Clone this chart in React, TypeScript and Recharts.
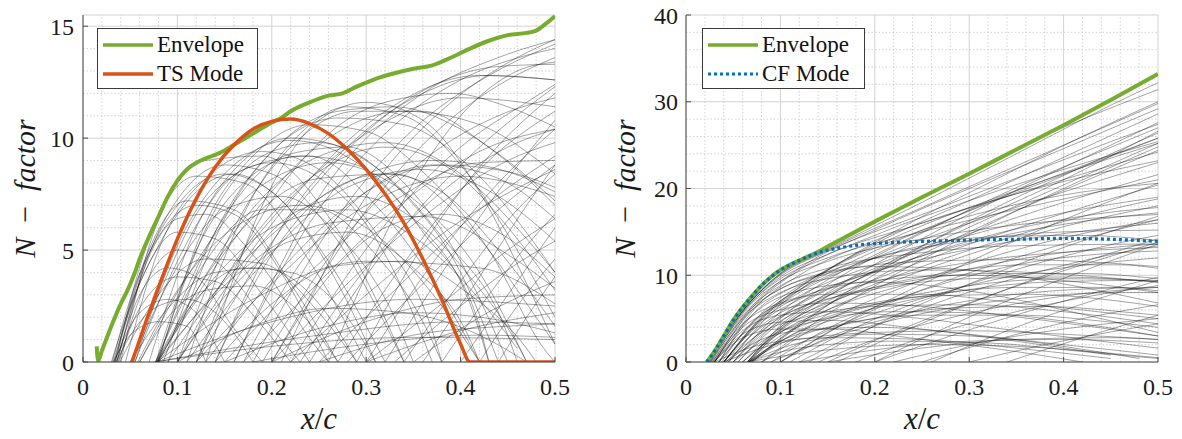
import React from 'react';
import { LineChart, Line, XAxis, YAxis, CartesianGrid, ReferenceLine, Legend } from 'recharts';

type Pt = [number, number];

const FONT = "'Liberation Serif', 'Times New Roman', serif";

// ---- tick values ----
const xTicks = [0, 0.1, 0.2, 0.3, 0.4, 0.5];
const xMinorTicks = [0.02, 0.04, 0.06, 0.08, 0.12, 0.14, 0.16, 0.18, 0.22, 0.24, 0.26, 0.28, 0.32, 0.34, 0.36, 0.38, 0.42, 0.44, 0.46, 0.48];
const tsYTicks = [0, 5, 10, 15];
const tsYMinorTicks = [1, 2, 3, 4, 6, 7, 8, 9, 11, 12, 13, 14];
const cfYTicks = [0, 10, 20, 30, 40];
const cfYMinorTicks = [2, 4, 6, 8, 12, 14, 16, 18, 22, 24, 26, 28, 32, 34, 36, 38];

// ---- left panel (TS) ----
const tsEnvelope: Pt[] = [
  [0.0145, 0.7], [0.016, 0.05], [0.02, 0.5], [0.03, 1.6], [0.04, 2.6], [0.046, 3.1], [0.055, 4.0], [0.06, 4.6],
  [0.07, 5.6], [0.08, 6.5], [0.09, 7.4], [0.1, 8.1], [0.11, 8.6], [0.12, 8.9], [0.13, 9.1], [0.14, 9.25],
  [0.15, 9.45], [0.16, 9.7], [0.18, 10.2], [0.2, 10.7], [0.21, 10.9], [0.22, 11.2], [0.24, 11.6], [0.26, 11.9],
  [0.275, 12.0], [0.29, 12.3], [0.31, 12.65], [0.33, 12.9], [0.35, 13.1], [0.37, 13.25], [0.39, 13.6],
  [0.41, 14.0], [0.43, 14.35], [0.45, 14.6], [0.47, 14.7], [0.48, 14.8], [0.49, 15.1], [0.5, 15.45],
];
const tsMode: Pt[] = [
  [0.052, 0], [0.07, 2.2], [0.085, 3.9], [0.1, 5.5], [0.12, 7.3], [0.14, 8.7], [0.16, 9.7], [0.18, 10.4],
  [0.2, 10.75], [0.22, 10.85], [0.24, 10.65], [0.26, 10.2], [0.28, 9.5], [0.3, 8.6], [0.32, 7.5], [0.34, 6.2],
  [0.36, 4.6], [0.38, 2.8], [0.4, 0.8], [0.41, 0], [0.5, 0],
];
const tsCurves: Pt[][] = [
  [[0.032, 0], [0.06, 3.5], [0.1, 5.8], [0.14, 5.5], [0.19, 3], [0.24, 0]],
  [[0.033, 0], [0.065, 4.5], [0.11, 7.2], [0.16, 6.8], [0.22, 3.5], [0.27, 0]],
  [[0.034, 0], [0.07, 5.5], [0.12, 8.3], [0.17, 8.0], [0.24, 4.5], [0.3, 0]],
  [[0.035, 0], [0.06, 3], [0.09, 4.2], [0.12, 3.8], [0.16, 1.5], [0.19, 0]],
  [[0.036, 0], [0.065, 4.2], [0.1, 6.4], [0.13, 6.6], [0.18, 4.8], [0.25, 0.5], [0.26, 0]],
  [[0.038, 0], [0.07, 3.8], [0.1, 5], [0.14, 4.5], [0.2, 1.5], [0.23, 0]],
  [[0.03, 0], [0.05, 2.5], [0.08, 5.2], [0.12, 7.6], [0.16, 8.4], [0.2, 7.6], [0.26, 4.5], [0.32, 0]],
  [[0.04, 0], [0.075, 5.8], [0.13, 9], [0.19, 9.2], [0.26, 6.5], [0.33, 1], [0.34, 0]],
  [[0.035, 0], [0.055, 1.5], [0.08, 2.5], [0.11, 2.8], [0.15, 1.8], [0.18, 0]],
  [[0.033, 0], [0.06, 2.2], [0.09, 2.8], [0.12, 2.2], [0.14, 0.8], [0.15, 0]],
  [[0.031, 0], [0.05, 2.8], [0.08, 5.6], [0.12, 7.0], [0.16, 6.6], [0.21, 4], [0.26, 0]],
  [[0.034, 0], [0.06, 3.8], [0.1, 7], [0.15, 8.4], [0.2, 7.6], [0.27, 3.5], [0.31, 0]],
  [[0.036, 0], [0.07, 4.8], [0.11, 7.8], [0.15, 8.8], [0.2, 8.4], [0.27, 5.4], [0.34, 0]],
  [[0.037, 0], [0.06, 2.4], [0.1, 3.8], [0.14, 3.6], [0.19, 1.6], [0.22, 0]],
  [[0.032, 0], [0.05, 1.2], [0.08, 1.8], [0.11, 1.6], [0.13, 0]],
  [[0.039, 0], [0.08, 3], [0.13, 4.6], [0.19, 4.4], [0.25, 2.2], [0.29, 0]],
  [[0.045, 0], [0.08, 5], [0.13, 8.2], [0.19, 9.4], [0.25, 8.6], [0.31, 5.8], [0.37, 1.4], [0.38, 0]],
  [[0.05, 0], [0.08, 3], [0.13, 7.2], [0.2, 8.9], [0.27, 7.6], [0.33, 4], [0.37, 0]],
  [[0.052, 0], [0.09, 3.5], [0.15, 6.8], [0.21, 7.4], [0.27, 5.7], [0.33, 2], [0.35, 0]],
  [[0.055, 0], [0.1, 4.5], [0.17, 8.6], [0.24, 9.2], [0.31, 7], [0.38, 3], [0.42, 0]],
  [[0.055, 0], [0.1, 5.2], [0.16, 8.8], [0.22, 9.9], [0.29, 8.9], [0.36, 5.8], [0.42, 1.6], [0.43, 0]],
  [[0.05, 0], [0.09, 2.4], [0.14, 4], [0.19, 4.2], [0.25, 2.6], [0.29, 0]],
  [[0.058, 0], [0.1, 3.2], [0.16, 6], [0.23, 7], [0.3, 6], [0.38, 2.5], [0.42, 0]],
  [[0.06, 0], [0.11, 3.8], [0.18, 7.6], [0.26, 8.9], [0.34, 7.6], [0.42, 4], [0.47, 0]],
  [[0.06, 0], [0.09, 2], [0.13, 3.2], [0.18, 3.4], [0.23, 2.2], [0.27, 0]],
  [[0.077, 0], [0.15, 6.5], [0.22, 9.3], [0.28, 9.6], [0.34, 8], [0.4, 4.5], [0.45, 0]],
  [[0.077, 0], [0.15, 5.0], [0.25, 8.2], [0.33, 8.4], [0.41, 6], [0.48, 2], [0.5, 0.8]],
  [[0.078, 0], [0.16, 3.8], [0.26, 6.2], [0.36, 6.5], [0.45, 4.8], [0.5, 3.3]],
  [[0.078, 0], [0.18, 2.8], [0.3, 4.5], [0.42, 4.2], [0.5, 2.6]],
  [[0.078, 0], [0.2, 1.8], [0.35, 2.8], [0.5, 2.5]],
  [[0.079, 0], [0.14, 6.8], [0.2, 9.4], [0.25, 9.8], [0.31, 8.7], [0.38, 5.6], [0.45, 1.2], [0.46, 0]],
  [[0.08, 0], [0.16, 5.8], [0.24, 9], [0.32, 9.8], [0.4, 8.4], [0.47, 5.5], [0.5, 4]],
  [[0.077, 0], [0.13, 4.5], [0.19, 6.8], [0.25, 6.8], [0.31, 4.8], [0.36, 1.8], [0.38, 0]],
  [[0.078, 0], [0.12, 2.8], [0.17, 4.2], [0.22, 4], [0.28, 2], [0.31, 0]],
  [[0.076, 0], [0.2, 0.7], [0.35, 1.1], [0.5, 1.0]],
  [[0.08, 0], [0.17, 4.5], [0.27, 7.8], [0.37, 9], [0.45, 8.5], [0.5, 7.6]],
  [[0.077, 0], [0.12, 5], [0.17, 8], [0.23, 9.2], [0.29, 8.8], [0.35, 6.4], [0.41, 2.6], [0.43, 0]],
  [[0.078, 0], [0.14, 3.8], [0.21, 6.2], [0.28, 6.8], [0.35, 5.6], [0.42, 2.8], [0.46, 0.6]],
  [[0.077, 0], [0.25, 1.2], [0.4, 1.8], [0.5, 1.7]],
  [[0.079, 0], [0.18, 6.6], [0.26, 10], [0.34, 11.2], [0.42, 10.6], [0.5, 8.4]],
  [[0.1, 0], [0.17, 5], [0.25, 8.5], [0.32, 9.6], [0.39, 8.6], [0.46, 5.5], [0.5, 3.2]],
  [[0.11, 0], [0.19, 4.4], [0.28, 7.8], [0.36, 8.6], [0.44, 7.4], [0.5, 5.4]],
  [[0.12, 0], [0.2, 3.5], [0.3, 7], [0.4, 8.3], [0.5, 7.4]],
  [[0.13, 0], [0.22, 4.6], [0.3, 7.6], [0.38, 8.8], [0.45, 8.5], [0.5, 7.8]],
  [[0.15, 0], [0.24, 4], [0.33, 7.2], [0.42, 8.9], [0.5, 9]],
  [[0.1, 0], [0.16, 3.4], [0.22, 5.4], [0.28, 5.8], [0.35, 4.2], [0.41, 1], [0.42, 0]],
  [[0.14, 0], [0.2, 2.6], [0.27, 4.3], [0.34, 4.5], [0.41, 3], [0.47, 0.6], [0.48, 0]],
  [[0.17, 0], [0.26, 4], [0.35, 7.5], [0.43, 9.6], [0.5, 10.4]],
  [[0.2, 0], [0.28, 3.5], [0.37, 6.8], [0.45, 9], [0.5, 9.8]],
  [[0.22, 0], [0.3, 3], [0.4, 6.3], [0.5, 8.6]],
  [[0.25, 0], [0.33, 3.2], [0.42, 6.8], [0.5, 9.2]],
  [[0.28, 0], [0.36, 3.5], [0.44, 6.8], [0.5, 8.8]],
  [[0.3, 0], [0.38, 2.6], [0.45, 5], [0.5, 6.4]],
  [[0.33, 0], [0.4, 2.5], [0.46, 4.4], [0.5, 5.4]],
  [[0.09, 0], [0.15, 6.4], [0.21, 9.8], [0.27, 11.2], [0.33, 11.4], [0.4, 10.4], [0.47, 8.2], [0.5, 7]],
  [[0.12, 0], [0.18, 5.8], [0.25, 9.8], [0.32, 11.6], [0.39, 12], [0.45, 11.4], [0.5, 10.5]],
  [[0.14, 0], [0.21, 6], [0.29, 10], [0.36, 12], [0.43, 12.8], [0.5, 12.6]],
  [[0.16, 0], [0.24, 6.2], [0.32, 10.2], [0.4, 12.6], [0.47, 13.7], [0.5, 14]],
  [[0.18, 0], [0.27, 6.5], [0.35, 10.4], [0.43, 12.8], [0.5, 14.2]],
  [[0.2, 0], [0.29, 6.2], [0.38, 10.5], [0.45, 12.6], [0.5, 13.6]],
  [[0.19, 0], [0.27, 5.2], [0.36, 9], [0.44, 11], [0.5, 11.8]],
  [[0.22, 0], [0.31, 5.6], [0.4, 9.6], [0.47, 11.6], [0.5, 12.4]],
  [[0.24, 0], [0.32, 5], [0.41, 9.2], [0.5, 12.3]],
  [[0.27, 0], [0.35, 5], [0.43, 9], [0.5, 11.2]],
  [[0.3, 0], [0.37, 4.4], [0.44, 8], [0.5, 10.4]],
  [[0.34, 0], [0.4, 3.6], [0.46, 6.8], [0.5, 8.4]],
  [[0.38, 0], [0.43, 3], [0.47, 5.2], [0.5, 6.6]],
  [[0.42, 0], [0.46, 2.5], [0.5, 4.6]],
  [[0.08, 0], [0.13, 6.2], [0.18, 9.2], [0.24, 10.6], [0.3, 10.3], [0.36, 8.5], [0.43, 5], [0.49, 0.5], [0.5, 0]],
  [[0.085, 0], [0.14, 5.8], [0.2, 9.4], [0.27, 10.9], [0.34, 10.6], [0.41, 8.7], [0.48, 5.2], [0.5, 4]],
  [[0.07, 0], [0.12, 6], [0.17, 9], [0.22, 10], [0.28, 9.5], [0.34, 7.5], [0.4, 4], [0.44, 0]],
  [[0.1, 0], [0.16, 6], [0.22, 9.6], [0.29, 11.2], [0.36, 11.2], [0.43, 9.6], [0.5, 7.2]],
  [[0.26, 0], [0.33, 6.5], [0.4, 11], [0.46, 13], [0.5, 13.4]],
  [[0.15, 0], [0.25, 1.5], [0.35, 2.2], [0.45, 1.8], [0.5, 1.3]],
  [[0.2, 0], [0.3, 1.8], [0.4, 2.8], [0.5, 3]],
  [[0.3, 0], [0.4, 1.4], [0.5, 2.2]],
  [[0.1, 0], [0.18, 1.6], [0.26, 2.4], [0.34, 2.2], [0.42, 1.2], [0.47, 0]],
  [[0.35, 0], [0.42, 2], [0.5, 3.6]],
  [[0.13, 0], [0.19, 7], [0.25, 10.8], [0.3, 11.6], [0.36, 10.8], [0.42, 7.6], [0.47, 3.5], [0.5, 0.8]],
  [[0.11, 0], [0.17, 6.6], [0.23, 10.2], [0.28, 11.4], [0.34, 11], [0.4, 8.8], [0.46, 5], [0.5, 2]],
  [[0.09, 0], [0.2, 6.4], [0.3, 10.2], [0.4, 11.8], [0.5, 11.4]],
  [[0.1, 0], [0.22, 7.2], [0.32, 11.2], [0.42, 12.8], [0.5, 12.6]],
  [[0.12, 0], [0.24, 7.6], [0.34, 11.6], [0.44, 13.2], [0.5, 13.3]],
  [[0.16, 0], [0.26, 8], [0.36, 12], [0.44, 13.6], [0.5, 14.4]],
  [[0.21, 0], [0.3, 7.4], [0.39, 11.6], [0.46, 13.6], [0.5, 14.4]],
  [[0.23, 0], [0.3, 4.2], [0.38, 7.6], [0.45, 9.6], [0.5, 10.4]],
  [[0.29, 0], [0.36, 5.2], [0.43, 9.2], [0.5, 12]],
  [[0.32, 0], [0.39, 4.6], [0.45, 8.2], [0.5, 10.8]],
  [[0.36, 0], [0.42, 3.8], [0.47, 7], [0.5, 8.8]],
  [[0.4, 0], [0.45, 3], [0.5, 6]],
  [[0.44, 0], [0.47, 2], [0.5, 3.8]],
  [[0.18, 0], [0.3, 0.8], [0.42, 1.2], [0.5, 1.1]],
  [[0.25, 0], [0.35, 1.2], [0.45, 1.6], [0.5, 1.7]],
  [[0.14, 0], [0.2, 4.8], [0.26, 7.6], [0.32, 8.4], [0.38, 7.6], [0.44, 5], [0.5, 1.6]],
  [[0.17, 0], [0.23, 4.4], [0.3, 7.6], [0.37, 8.8], [0.44, 8.2], [0.5, 6.4]],
  [[0.12, 0], [0.17, 4.2], [0.23, 6.8], [0.29, 7.4], [0.35, 6.4], [0.41, 3.8], [0.46, 0.8], [0.47, 0]],
  [[0.2, 0], [0.26, 3.8], [0.32, 6], [0.38, 6.6], [0.44, 5.8], [0.5, 3.8]],
];

// ---- right panel (CF) ----
const cfEnvelope: Pt[] = [
  [0.022, 0], [0.03, 1.2], [0.04, 3.0], [0.05, 4.8], [0.06, 6.3], [0.07, 7.6], [0.08, 8.8], [0.09, 9.8],
  [0.1, 10.6], [0.11, 11.2], [0.12, 11.7], [0.13, 12.2], [0.14, 12.7], [0.15, 13.3], [0.2, 16.2],
  [0.25, 19.0], [0.3, 21.7], [0.35, 24.5], [0.4, 27.3], [0.45, 30.2], [0.5, 33.2],
];
const cfMode: Pt[] = [
  [0.022, 0], [0.03, 1.2], [0.04, 3.0], [0.05, 4.8], [0.06, 6.3], [0.07, 7.6], [0.08, 8.8], [0.09, 9.8],
  [0.1, 10.6], [0.11, 11.2], [0.12, 11.7], [0.13, 12.2], [0.14, 12.6], [0.16, 13.1], [0.18, 13.45],
  [0.2, 13.65], [0.25, 13.9], [0.3, 14.05], [0.35, 14.15], [0.4, 14.25], [0.45, 14.15], [0.5, 13.9],
];
const cfCurves: Pt[][] = [
  [[0.024, 0], [0.06, 5.8], [0.1, 9.6], [0.15, 12], [0.25, 15], [0.35, 17.6], [0.5, 21]],
  [[0.025, 0], [0.06, 5.4], [0.1, 8.8], [0.15, 10.8], [0.25, 12.6], [0.35, 13.4], [0.5, 13.6]],
  [[0.026, 0], [0.06, 5], [0.1, 8], [0.15, 9.6], [0.25, 10.6], [0.35, 10.4], [0.5, 9.2]],
  [[0.028, 0], [0.06, 4.4], [0.1, 6.8], [0.15, 7.8], [0.25, 7.8], [0.35, 6.8], [0.5, 5]],
  [[0.03, 0], [0.06, 3.6], [0.1, 5.4], [0.15, 5.8], [0.25, 5], [0.35, 3.6], [0.5, 1.6]],
  [[0.03, 0], [0.06, 2.8], [0.1, 3.8], [0.15, 3.8], [0.25, 2.6], [0.35, 1.2], [0.42, 0]],
  [[0.024, 0], [0.06, 5.9], [0.1, 10], [0.15, 12.8], [0.25, 17], [0.35, 21.2], [0.45, 25.4], [0.5, 27.4]],
  [[0.025, 0], [0.06, 5.7], [0.1, 9.8], [0.15, 12.4], [0.25, 16], [0.35, 19.4], [0.5, 24.2]],
  [[0.024, 0], [0.06, 5.9], [0.1, 10.2], [0.15, 13], [0.25, 18.4], [0.35, 24], [0.45, 29.6], [0.5, 32.2]],
  [[0.024, 0], [0.06, 5.9], [0.1, 10.2], [0.15, 13.1], [0.25, 18.9], [0.35, 24.6], [0.5, 31.4]],
  [[0.023, 0], [0.06, 5.9], [0.1, 10.1], [0.15, 12.9], [0.25, 17.8], [0.35, 22.6], [0.45, 27.4], [0.5, 29.8]],
  [[0.026, 0], [0.06, 5.6], [0.1, 9.3], [0.15, 11.6], [0.25, 14.2], [0.35, 15.8], [0.5, 17]],
  [[0.027, 0], [0.06, 5.2], [0.1, 8.4], [0.15, 10.2], [0.25, 11.6], [0.35, 11.8], [0.5, 11]],
  [[0.029, 0], [0.06, 4], [0.1, 6], [0.15, 6.8], [0.25, 6.4], [0.35, 5.2], [0.5, 3]],
  [[0.03, 0], [0.06, 3.2], [0.1, 4.6], [0.15, 4.8], [0.25, 3.8], [0.35, 2.4], [0.45, 0.8]],
  [[0.03, 0], [0.07, 6], [0.12, 9.4], [0.2, 11], [0.3, 10.6], [0.4, 9], [0.5, 6.8]],
  [[0.03, 0], [0.07, 5.4], [0.12, 8.2], [0.2, 9.2], [0.3, 8.2], [0.4, 6], [0.5, 3.4]],
  [[0.03, 0], [0.07, 6.2], [0.12, 10.6], [0.2, 14.6], [0.3, 18.6], [0.4, 22.2], [0.5, 25.4]],
  [[0.028, 0], [0.07, 6.4], [0.12, 10.8], [0.2, 15.2], [0.3, 20], [0.4, 24.6], [0.5, 29.2]],
  [[0.03, 0], [0.08, 2], [0.15, 2.8], [0.25, 2.6], [0.35, 1.6], [0.45, 0.4]],
  [[0.035, 0], [0.08, 5.4], [0.14, 9.4], [0.22, 12.6], [0.32, 14.4], [0.42, 14.6], [0.5, 14]],
  [[0.035, 0], [0.08, 5.6], [0.14, 10], [0.22, 14], [0.32, 17.4], [0.42, 19.6], [0.5, 20.6]],
  [[0.035, 0], [0.07, 5.8], [0.12, 10], [0.2, 14], [0.3, 17.8], [0.4, 20.8], [0.5, 23.2]],
  [[0.035, 0], [0.07, 5.4], [0.12, 9], [0.2, 12], [0.3, 14], [0.4, 15], [0.5, 15.2]],
  [[0.038, 0], [0.07, 4.6], [0.12, 7.4], [0.2, 9.4], [0.3, 10], [0.4, 9.4], [0.5, 8]],
  [[0.04, 0], [0.08, 5], [0.12, 8], [0.2, 12], [0.3, 16], [0.4, 19.6], [0.5, 23]],
  [[0.04, 0], [0.08, 4.6], [0.12, 7.2], [0.2, 10.4], [0.3, 13], [0.4, 14.8], [0.5, 16]],
  [[0.04, 0], [0.08, 4], [0.12, 6.2], [0.2, 8.4], [0.3, 9.6], [0.4, 9.8], [0.5, 9.2]],
  [[0.042, 0], [0.08, 3.4], [0.12, 5], [0.2, 6.4], [0.3, 6.6], [0.4, 5.8], [0.5, 4.4]],
  [[0.042, 0], [0.08, 2.6], [0.12, 3.6], [0.2, 4], [0.3, 3.2], [0.4, 1.8], [0.48, 0.4]],
  [[0.04, 0], [0.08, 5.2], [0.12, 8.6], [0.2, 13.6], [0.3, 18.6], [0.4, 23.6], [0.5, 28.6]],
  [[0.04, 0], [0.08, 5.1], [0.12, 8.3], [0.2, 12.8], [0.3, 17.4], [0.4, 21.6], [0.5, 25.8]],
  [[0.04, 0], [0.08, 4.8], [0.12, 7.6], [0.2, 11.2], [0.3, 14.6], [0.4, 17.2], [0.5, 19]],
  [[0.04, 0], [0.09, 6], [0.15, 10.6], [0.23, 14.8], [0.33, 19], [0.43, 22.8], [0.5, 25.2]],
  [[0.04, 0], [0.1, 2.2], [0.2, 3.4], [0.3, 3.6], [0.4, 3.2], [0.5, 2.6]],
  [[0.045, 0], [0.08, 4.2], [0.12, 6.8], [0.2, 10.8], [0.3, 14.8], [0.4, 18.4], [0.5, 21.6]],
  [[0.045, 0], [0.09, 4.4], [0.14, 7.2], [0.22, 9.8], [0.32, 11.8], [0.42, 12.8], [0.5, 13.2]],
  [[0.045, 0], [0.09, 5.6], [0.14, 9.8], [0.22, 15], [0.32, 20.6], [0.42, 26], [0.5, 30]],
  [[0.05, 0], [0.09, 4.8], [0.14, 8.8], [0.22, 13.4], [0.32, 18.4], [0.42, 22.6], [0.5, 25.8]],
  [[0.05, 0], [0.09, 4.4], [0.14, 7.8], [0.22, 11.2], [0.32, 14.2], [0.42, 16.2], [0.5, 17.2]],
  [[0.05, 0], [0.09, 4], [0.14, 6.8], [0.22, 9], [0.32, 10.2], [0.42, 10.2], [0.5, 9.6]],
  [[0.05, 0], [0.09, 3], [0.14, 4.8], [0.22, 5.8], [0.32, 5.6], [0.42, 4.4], [0.5, 3]],
  [[0.055, 0], [0.1, 4.6], [0.16, 8.4], [0.26, 12.6], [0.36, 15.6], [0.46, 17.4], [0.5, 17.8]],
  [[0.055, 0], [0.1, 5], [0.16, 9.6], [0.26, 15.4], [0.36, 20.6], [0.46, 25.2], [0.5, 27]],
  [[0.06, 0], [0.1, 4], [0.16, 7.2], [0.26, 10], [0.36, 11.2], [0.46, 11.2], [0.5, 10.8]],
  [[0.06, 0], [0.12, 5.4], [0.2, 10.6], [0.3, 16], [0.4, 21], [0.5, 26.6]],
  [[0.06, 0], [0.1, 3.4], [0.16, 5.8], [0.26, 7.6], [0.36, 7.8], [0.46, 7], [0.5, 6.4]],
  [[0.065, 0], [0.1, 3.8], [0.15, 7], [0.25, 11.6], [0.35, 15.4], [0.45, 18.8], [0.5, 20.4]],
  [[0.065, 0], [0.1, 3.4], [0.15, 6], [0.25, 9.4], [0.35, 11.8], [0.45, 13.2], [0.5, 13.6]],
  [[0.065, 0], [0.1, 3], [0.15, 5.2], [0.25, 7.6], [0.35, 8.6], [0.45, 8.6], [0.5, 8.2]],
  [[0.066, 0], [0.1, 2.4], [0.15, 4], [0.25, 5.4], [0.35, 5.4], [0.45, 4.6], [0.5, 4]],
  [[0.066, 0], [0.12, 2.2], [0.2, 3.2], [0.3, 3], [0.4, 2], [0.5, 0.8]],
  [[0.065, 0], [0.1, 4], [0.15, 7.6], [0.25, 13], [0.35, 18], [0.45, 22.8], [0.5, 25.2]],
  [[0.067, 0], [0.1, 3.6], [0.15, 6.6], [0.25, 11], [0.35, 14.6], [0.45, 17.6], [0.5, 18.8]],
  [[0.068, 0], [0.12, 3.6], [0.2, 6.6], [0.3, 8.8], [0.4, 9.6], [0.5, 9.4]],
  [[0.065, 0], [0.15, 1.4], [0.25, 2], [0.35, 1.8], [0.45, 1], [0.5, 0.5]],
  [[0.065, 0], [0.1, 4.2], [0.15, 8], [0.25, 14.2], [0.35, 19.8], [0.45, 25], [0.5, 27.6]],
  [[0.065, 0], [0.11, 3], [0.18, 5.6], [0.28, 8], [0.38, 9.2], [0.48, 9.4], [0.5, 9.3]],
  [[0.066, 0], [0.12, 1.6], [0.22, 2.4], [0.32, 2.2], [0.42, 1.2], [0.5, 0.4]],
  [[0.066, 0], [0.11, 2.6], [0.18, 4.6], [0.28, 6.2], [0.38, 6.4], [0.48, 5.6], [0.5, 5.4]],
  [[0.068, 0], [0.12, 4.2], [0.2, 8.4], [0.3, 12.4], [0.4, 15.6], [0.5, 18]],
  [[0.07, 0], [0.12, 4.4], [0.2, 9.6], [0.3, 15], [0.4, 19.8], [0.5, 24.4]],
  [[0.07, 0], [0.13, 5], [0.21, 10.8], [0.31, 16.8], [0.41, 22], [0.5, 26.4]],
  [[0.08, 0], [0.14, 4.8], [0.22, 10], [0.32, 15.8], [0.42, 21], [0.5, 24.8]],
  [[0.08, 0], [0.14, 4.2], [0.22, 8.2], [0.32, 12], [0.42, 14.8], [0.5, 16.4]],
  [[0.08, 0], [0.15, 3.6], [0.24, 7], [0.34, 9.8], [0.44, 11.4], [0.5, 12]],
  [[0.09, 0], [0.16, 4.4], [0.26, 8.6], [0.36, 11.4], [0.46, 12.6], [0.5, 12.8]],
  [[0.09, 0], [0.16, 3], [0.26, 5.8], [0.36, 7.4], [0.46, 8], [0.5, 8]],
  [[0.1, 0], [0.15, 3.4], [0.22, 7], [0.32, 11], [0.42, 14.2], [0.5, 16.4]],
  [[0.1, 0], [0.15, 2.8], [0.22, 5.2], [0.32, 7.4], [0.42, 8.4], [0.5, 8.6]],
  [[0.1, 0], [0.17, 4.6], [0.27, 10], [0.37, 15], [0.47, 19.4], [0.5, 20.6]],
  [[0.11, 0], [0.18, 4], [0.28, 8.2], [0.38, 11.6], [0.48, 14.2], [0.5, 14.6]],
  [[0.12, 0], [0.18, 3.2], [0.26, 6.6], [0.36, 10], [0.46, 12.6], [0.5, 13.4]],
  [[0.12, 0], [0.2, 1.4], [0.3, 2.4], [0.4, 2.6], [0.5, 2.2]],
  [[0.13, 0], [0.2, 4.2], [0.3, 9], [0.4, 13.2], [0.5, 16.8]],
  [[0.14, 0], [0.2, 2.6], [0.3, 5.6], [0.4, 7.6], [0.5, 8.6]],
  [[0.15, 0], [0.22, 3.4], [0.32, 7.6], [0.42, 11.2], [0.5, 13.8]],
  [[0.15, 0], [0.25, 1.6], [0.35, 2.6], [0.45, 2.8], [0.5, 2.6]],
  [[0.16, 0], [0.24, 4], [0.34, 8.4], [0.44, 12.2], [0.5, 14.2]],
  [[0.18, 0], [0.25, 2.8], [0.35, 5.8], [0.45, 8], [0.5, 8.8]],
  [[0.2, 0], [0.28, 3], [0.38, 6.4], [0.5, 9.8]],
  [[0.2, 0], [0.28, 4.2], [0.38, 8.8], [0.5, 13.6]],
  [[0.22, 0], [0.3, 2], [0.4, 3.8], [0.5, 5]],
  [[0.25, 0], [0.33, 2.6], [0.42, 5], [0.5, 6.6]],
  [[0.26, 0], [0.34, 3.6], [0.44, 7.4], [0.5, 9.4]],
  [[0.3, 0], [0.38, 2], [0.5, 4.4]],
  [[0.34, 0], [0.42, 2.8], [0.5, 5.4]],
];

const toData = (c: Pt[]) => c.map(([x, y]) => ({ x, y }));

function XLabel(props: any) {
  const vb = props.viewBox || {};
  return (
    <text x={vb.x + vb.width / 2} y={vb.y + 67} textAnchor="middle" style={{ fontFamily: FONT }} fontSize={31} fill="#1a1a1a">
      <tspan fontStyle="italic">x</tspan>
      <tspan>/</tspan>
      <tspan fontStyle="italic">c</tspan>
    </text>
  );
}

function YLabel(props: any) {
  const vb = props.viewBox || {};
  const cx = vb.x + 35;
  const cy = vb.y + vb.height / 2;
  return (
    <text x={cx} y={cy} transform={`rotate(-90 ${cx} ${cy})`} textAnchor="middle" style={{ fontFamily: FONT }} fontSize={30} fill="#1a1a1a">
      <tspan fontStyle="italic">N</tspan>
      <tspan>{'\u2002\u2212\u2002'}</tspan>
      <tspan fontStyle="italic">factor</tspan>
    </text>
  );
}

function LegendBox({ modeName, modeColor, modeDash, width }: any) {
  const row = (color: string, dash: string | undefined, label: string) => (
    <div style={{ display: 'flex', alignItems: 'center', height: 29 }}>
      <svg width={50} height={8} style={{ marginLeft: 5, marginRight: 4, flex: 'none' }}>
        <line x1={0} y1={4} x2={50} y2={4} stroke={color} strokeWidth={dash ? 3 : 3.5} strokeDasharray={dash} />
      </svg>
      <span style={{ fontFamily: FONT, fontSize: 23, color: '#111', lineHeight: '29px', whiteSpace: 'nowrap' }}>{label}</span>
    </div>
  );
  return (
    <div style={{ boxSizing: 'border-box', width, height: 61, border: '1px solid #3a3a3a', background: '#fff', paddingTop: 1 }}>
      {row('#77AC30', undefined, 'Envelope')}
      {row(modeColor, modeDash, modeName)}
    </div>
  );
}

function Panel(p: any) {
  const { left, width, yAxisWidth, marginRight, yDomain, yTicks, yMinor, curves, envelope, mode, modeName, modeColor, modeDash, legendLeft, legendWidth, yTickMargin } = p;
  const axisStroke = '#4a4a4a';
  const tickStyle = { fill: '#1a1a1a', fontSize: 24, fontFamily: FONT, style: { fontFamily: FONT } };
  return (
    <div style={{ position: 'absolute', left, top: 0, fontFamily: FONT }}>
      <LineChart width={width} height={439} margin={{ top: 15, right: marginRight, bottom: 0, left: 0 }} style={{ fontFamily: FONT }}>
        <CartesianGrid stroke="#d2d2d2" strokeWidth={1} />
        {xMinorTicks.map((v) => (
          <ReferenceLine key={'mx' + v} x={v} stroke="#c8c8c8" strokeWidth={0.8} strokeDasharray="1.5 2" />
        ))}
        {yMinor.map((v: number) => (
          <ReferenceLine key={'my' + v} y={v} stroke="#c8c8c8" strokeWidth={0.8} strokeDasharray="1.5 2" />
        ))}
        <XAxis
          xAxisId={0}
          type="number"
          dataKey="x"
          domain={[0, 0.5]}
          ticks={xTicks}
          interval={0}
          allowDataOverflow
          height={77}
          tickSize={-5}
          tickMargin={21}
          axisLine={{ stroke: axisStroke }}
          tickLine={{ stroke: axisStroke }}
          tick={tickStyle}
          label={{ content: (lp: any) => <XLabel {...lp} /> }}
        />
        <XAxis
          xAxisId="top"
          orientation="top"
          type="number"
          dataKey="x"
          domain={[0, 0.5]}
          ticks={xTicks}
          interval={0}
          allowDataOverflow
          height={0}
          tickSize={-5}
          tickFormatter={() => ''}
          axisLine={{ stroke: axisStroke }}
          tickLine={{ stroke: axisStroke }}
        />
        <YAxis
          yAxisId={0}
          type="number"
          domain={yDomain}
          ticks={yTicks}
          interval={0}
          allowDataOverflow
          width={yAxisWidth}
          tickSize={-5}
          tickMargin={yTickMargin}
          axisLine={{ stroke: axisStroke }}
          tickLine={{ stroke: axisStroke }}
          tick={tickStyle}
          label={{ content: (lp: any) => <YLabel {...lp} /> }}
        />
        <YAxis
          yAxisId="right"
          orientation="right"
          type="number"
          domain={yDomain}
          ticks={yTicks}
          interval={0}
          allowDataOverflow
          width={0}
          tickSize={-5}
          tickFormatter={() => ''}
          axisLine={{ stroke: axisStroke }}
          tickLine={{ stroke: axisStroke }}
        />
        {curves.map((c: Pt[], i: number) => (
          <Line
            key={'c' + i}
            data={toData(c)}
            dataKey="y"
            type="monotone"
            stroke="#000"
            strokeOpacity={0.4}
            strokeWidth={0.9}
            dot={false}
            activeDot={false}
            isAnimationActive={false}
            legendType="none"
          />
        ))}
        <Line
          data={toData(envelope)}
          dataKey="y"
          name="Envelope"
          type="monotone"
          stroke="#77AC30"
          strokeWidth={4}
          dot={false}
          activeDot={false}
          isAnimationActive={false}
        />
        <Line
          data={toData(mode)}
          dataKey="y"
          name={modeName}
          type="monotone"
          stroke={modeColor}
          strokeWidth={modeDash ? 3.2 : 3.5}
          strokeDasharray={modeDash}
          dot={false}
          activeDot={false}
          isAnimationActive={false}
        />
        <Legend
          layout="horizontal"
          verticalAlign="middle"
          align="center"
          wrapperStyle={{ left: legendLeft, top: 28, width: legendWidth, height: 61 }}
          content={() => <LegendBox modeName={modeName} modeColor={modeColor} modeDash={modeDash} width={legendWidth} />}
        />
      </LineChart>
    </div>
  );
}

export default function App() {
  return (
    <div style={{ position: 'absolute', left: 0, top: 0, width: 1182, height: 439, background: '#fff', fontFamily: FONT }}>
      <Panel
        left={0}
        width={600}
        yAxisWidth={83}
        marginRight={45}
        yDomain={[0, 15.5]}
        yTicks={tsYTicks}
        yMinor={tsYMinorTicks}
        yTickMargin={14}
        curves={tsCurves}
        envelope={tsEnvelope}
        mode={tsMode}
        modeName="TS Mode"
        modeColor="#D95319"
        legendLeft={97}
        legendWidth={161}
      />
      <Panel
        left={600}
        width={582}
        yAxisWidth={86}
        marginRight={24}
        yDomain={[0, 40]}
        yTicks={cfYTicks}
        yMinor={cfYMinorTicks}
        yTickMargin={13}
        curves={cfCurves}
        envelope={cfEnvelope}
        mode={cfMode}
        modeName="CF Mode"
        modeColor="#0072BD"
        modeDash="3 3"
        legendLeft={102}
        legendWidth={163}
      />
    </div>
  );
}
